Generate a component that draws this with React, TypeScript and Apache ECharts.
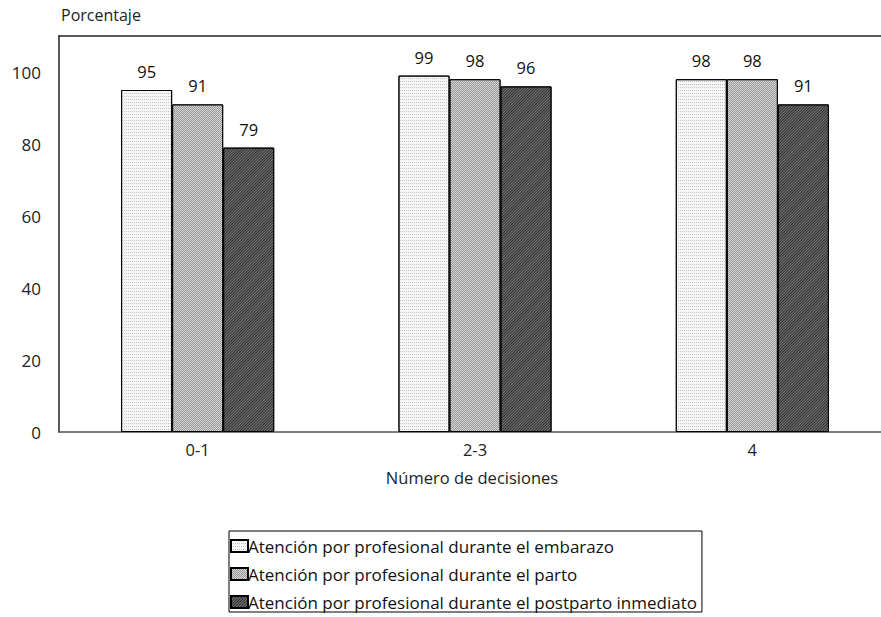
import React, { useEffect, useRef } from "react";
import * as echarts from "echarts";

const categories = ["0-1", "2-3", "4"];
const seriesNames = [
  "Atención por profesional durante el embarazo",
  "Atención por profesional durante el parto",
  "Atención por profesional durante el postparto inmediato",
];
const embarazo = [95, 99, 98];
const parto = [91, 98, 98];
const postparto = [79, 96, 91];
const yTicks = [0, 20, 40, 60, 80, 100];

const FONT = "'Open Sans', 'Noto Sans', sans-serif";

export default function App() {
  const ref = useRef<HTMLDivElement>(null);
  useEffect(() => {
    if (!ref.current) return;
    const chart = echarts.init(ref.current, undefined, { renderer: "svg" });
    const label = {
      show: true,
      position: "top" as const,
      distance: 10,
      color: "#111",
      fontSize: 16.5,
      fontFamily: FONT,
    };
    const styles = [
      {
        color: "#f6f6f6",
        borderColor: "#000",
        borderWidth: 1,
        decal: {
          symbol: "rect",
          color: "#c4c4c4",
          dashArrayX: [1, 1],
          dashArrayY: [1, 2],
          symbolSize: 1,
          rotation: 0,
        },
      },
      {
        color: "#d4d4d4",
        borderColor: "#000",
        borderWidth: 1,
        decal: {
          symbol: "rect",
          color: "#9a9a9a",
          dashArrayX: [[1, 1], [0, 1, 1, 0]],
          dashArrayY: [1, 0],
          symbolSize: 1,
          rotation: 0,
        },
      },
      {
        color: "#7a7a7a",
        borderColor: "#000",
        borderWidth: 1,
        decal: {
          symbol: "rect",
          color: "#2a2a2a",
          dashArrayX: [1, 0],
          dashArrayY: [1, 1],
          symbolSize: 1,
          rotation: -Math.PI / 4,
        },
      },
    ];
    const data = [embarazo, parto, postparto];
    chart.setOption({
      animation: false,
      textStyle: { fontFamily: FONT },
      grid: {
        left: 59,
        top: 36,
        width: 832,
        height: 396,
        containLabel: false,
        outerBoundsMode: "none",
      },
      legend: {
        orient: "vertical",
        left: 229,
        top: 531,
        icon: "rect",
        itemWidth: 17,
        itemHeight: 12,
        itemGap: 8,
        padding: [5, 5, 0, 1],
        borderColor: "#000",
        borderWidth: 1,
        textStyle: {
          fontSize: 17,
          lineHeight: 20,
          color: "#111",
          fontFamily: FONT,
          padding: [0, 0, 0, -5],
        },
        data: seriesNames,
      },
      xAxis: [
        {
          type: "category",
          data: categories,
          position: "bottom",
          axisLine: { lineStyle: { color: "#555", width: 1.5 } },
          axisTick: { show: false },
          axisLabel: { fontSize: 16.5, color: "#222", fontFamily: FONT, margin: 9 },
          name: "Número de decisiones",
          nameLocation: "middle",
          nameGap: 37,
          nameTextStyle: { fontSize: 16.5, color: "#222", fontFamily: FONT, padding: [0, 6, 0, 0] },
        },
        {
          type: "category",
          data: categories,
          position: "top",
          axisLine: { lineStyle: { color: "#222", width: 1.5 } },
          axisTick: { show: false },
          axisLabel: { show: false },
        },
      ],
      yAxis: {
        type: "value",
        min: 0,
        max: 110,
        interval: 20,
        name: "Porcentaje",
        nameLocation: "end",
        nameGap: 13,
        nameTextStyle: {
          fontSize: 16,
          color: "#222",
          fontFamily: FONT,
          align: "left",
          padding: [0, 0, 0, 2],
        },
        axisLine: { show: true, lineStyle: { color: "#222", width: 1.5 } },
        axisTick: { show: false },
        splitLine: { show: false },
        axisLabel: {
          fontSize: 17,
          color: "#222",
          fontFamily: FONT,
          margin: 18,
          formatter: (v: number) => (yTicks.includes(v) ? String(v) : ""),
        },
      },
      series: data.map((d, i) => ({
        name: seriesNames[i],
        type: "bar",
        data: d,
        barGap: "0%",
        barCategoryGap: "44.8%",
        itemStyle: styles[i],
        label,
      })),
    });
    return () => chart.dispose();
  }, []);
  return (
    <div
      ref={ref}
      style={{ position: "fixed", left: 0, top: 0, width: 881, height: 617, background: "#fff", overflow: "hidden" }}
    />
  );
}
